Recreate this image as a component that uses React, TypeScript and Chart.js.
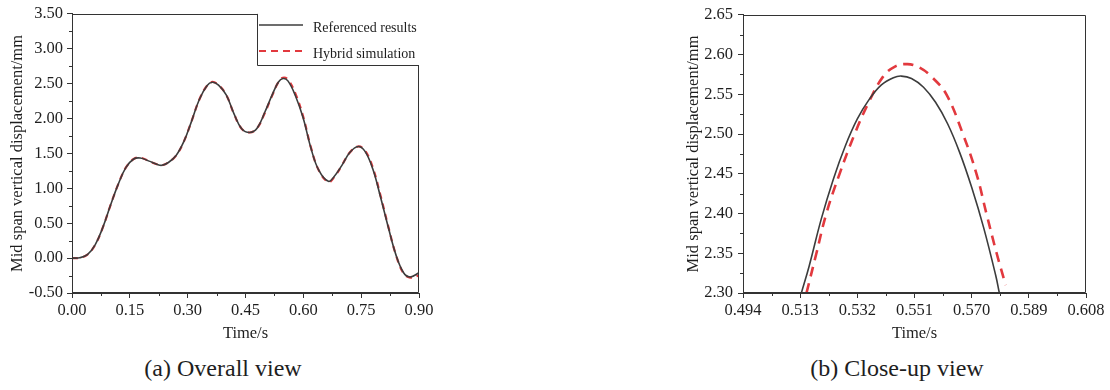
import React, { useEffect, useRef } from 'react';
import { Chart, registerables } from 'chart.js';

Chart.register(...registerables);

// ---------- data ----------
const seriesNames = ['Referenced results', 'Hybrid simulation'];

// (a) overall view
const overallTime = [
  0, 0.02, 0.04, 0.06, 0.08, 0.1, 0.12, 0.14, 0.16, 0.177, 0.2, 0.22, 0.233, 0.25, 0.27, 0.29,
  0.31, 0.33, 0.35, 0.364, 0.38, 0.4, 0.42, 0.44, 0.461, 0.48, 0.5, 0.52, 0.535, 0.547, 0.56,
  0.58, 0.6, 0.62, 0.64, 0.665, 0.68, 0.7, 0.72, 0.742, 0.76, 0.78, 0.8, 0.82, 0.84, 0.86, 0.877, 0.9,
];
const overallReferenced = [
  0, 0.005, 0.05, 0.19, 0.44, 0.76, 1.06, 1.3, 1.42, 1.435, 1.39, 1.345, 1.33, 1.37, 1.47, 1.67,
  1.96, 2.27, 2.47, 2.52, 2.48, 2.34, 2.07, 1.855, 1.8, 1.86, 2.09, 2.35, 2.52, 2.573, 2.54,
  2.32, 2.0, 1.57, 1.26, 1.1, 1.17, 1.33, 1.51, 1.6, 1.53, 1.28, 0.88, 0.45, 0.05, -0.21, -0.27, -0.21,
];
const overallHybrid = [
  0, 0.005, 0.05, 0.19, 0.44, 0.76, 1.06, 1.3, 1.42, 1.44, 1.39, 1.345, 1.33, 1.37, 1.47, 1.67,
  1.96, 2.27, 2.47, 2.525, 2.48, 2.34, 2.07, 1.855, 1.8, 1.86, 2.08, 2.34, 2.52, 2.585, 2.56,
  2.35, 2.02, 1.58, 1.26, 1.09, 1.16, 1.33, 1.51, 1.6, 1.54, 1.3, 0.9, 0.46, 0.05, -0.22, -0.28, -0.25,
];
const overallXTicks = [0, 0.9, 0.15, 0.075]; // min, max, major step, minor step
const overallYTicks = [-0.5, 3.5, 0.5, 0.25];

// (b) close-up view
const closeRefTime = [
  0.5134, 0.516, 0.52, 0.524, 0.528, 0.532, 0.536, 0.54, 0.544, 0.5466, 0.55, 0.554, 0.558,
  0.562, 0.566, 0.57, 0.574, 0.578, 0.5792,
];
const closeRefValues = [
  2.3, 2.334, 2.393, 2.443, 2.485, 2.519, 2.544, 2.562, 2.571, 2.573, 2.57, 2.559, 2.54,
  2.513, 2.477, 2.433, 2.382, 2.322, 2.3,
];
const closeHybTime = [
  0.5151, 0.5184, 0.5217, 0.5261, 0.5311, 0.5358, 0.5405, 0.5445, 0.5486, 0.553, 0.557, 0.5616,
  0.5671, 0.5716, 0.5749, 0.5783, 0.5813,
];
const closeHybValues = [
  2.3, 2.35, 2.4, 2.45, 2.5, 2.54, 2.572, 2.585, 2.588, 2.583, 2.571, 2.55, 2.5, 2.45, 2.4, 2.35, 2.31,
];
const closeXTicks = [0.494, 0.608, 0.019, 0.0095];
const closeYTicks = [2.3, 2.65, 0.05, 0.025];

// ---------- styles ----------
const FONT = '"Liberation Serif", "Times New Roman", serif';
const INK = '#1e1e1e';
const FRAME = '#333333';
const BLACK_LINE = '#3c3c3c';
const RED_LINE = '#e2393e';
const TICK_SIZE = 16.5;
const TITLE_SIZE = 16.5;

const framePlugin = {
  id: 'frameMinor',
  afterDraw(chart: any, _args: any, opts: any) {
    const { ctx, chartArea: a } = chart;
    ctx.save();
    ctx.strokeStyle = FRAME;
    ctx.lineWidth = 1;
    const L = Math.round(a.left) + 0.5;
    const T = Math.round(a.top) + 0.5;
    const R = Math.round(a.right) - 0.5;
    const B = Math.round(a.bottom) - 0.5;
    ctx.beginPath();
    ctx.moveTo(L, T); ctx.lineTo(R, T); ctx.lineTo(R, B); ctx.lineTo(L, B); ctx.closePath();
    ctx.stroke();
    // minor ticks (odd multiples of the minor step)
    const xs = chart.scales.x;
    const ys = chart.scales.y;
    const [xmin, xmax, , xminor] = opts.xt;
    const [ymin, ymax, , yminor] = opts.yt;
    ctx.beginPath();
    const nx = Math.round((xmax - xmin) / xminor);
    for (let i = 1; i < nx; i += 2) {
      const px = Math.round(xs.getPixelForValue(xmin + i * xminor)) + 0.5;
      ctx.moveTo(px, B); ctx.lineTo(px, B + 3.5);
    }
    const ny = Math.round((ymax - ymin) / yminor);
    for (let i = 1; i < ny; i += 2) {
      const py = Math.round(ys.getPixelForValue(ymin + i * yminor)) + 0.5;
      ctx.moveTo(L, py); ctx.lineTo(L - 3.5, py);
    }
    ctx.stroke();
    // legend
    const lg = opts.legend;
    if (lg) {
      if (lg.boxed) {
        ctx.fillStyle = '#ffffff';
        ctx.fillRect(lg.boxLeft, a.top - 1, a.right - lg.boxLeft + 2, lg.boxBottom - a.top + 1);
        ctx.beginPath();
        ctx.moveTo(lg.boxLeft + 0.5, a.top);
        ctx.lineTo(lg.boxLeft + 0.5, lg.boxBottom + 0.5);
        ctx.lineTo(a.right, lg.boxBottom + 0.5);
        ctx.stroke();
      }
      chart.data.datasets.forEach((ds: any, i: number) => {
        const y = lg.rows[i];
        ctx.beginPath();
        ctx.strokeStyle = ds.borderColor;
        ctx.lineWidth = ds.borderWidth;
        ctx.setLineDash(lg.dashes[i]);
        ctx.moveTo(lg.lineX0, y); ctx.lineTo(lg.lineX1, y);
        ctx.stroke();
        ctx.setLineDash([]);
        ctx.fillStyle = INK;
        ctx.font = `${lg.fontSize}px ${FONT}`;
        ctx.textBaseline = 'alphabetic';
        ctx.textAlign = 'left';
        ctx.fillText(ds.label, lg.textX, y + lg.baselineOffset);
      });
    }
    ctx.restore();
  },
};

function makeScale(t: number[], decimals: number, title: string, isX: boolean, size: number, labelPad: number) {
  return {
    type: 'linear',
    min: t[0],
    max: t[1],
    ticks: {
      stepSize: t[2],
      autoSkip: false,
      maxRotation: 0,
      padding: labelPad,
      color: INK,
      font: { family: FONT, size: TICK_SIZE },
      callback: (v: any) => Number(v).toFixed(decimals),
    },
    grid: { display: true, drawOnChartArea: false, drawTicks: true, tickLength: 5, color: FRAME, lineWidth: 1 },
    border: { display: true, color: FRAME, width: 1 },
    title: {
      display: true,
      text: title,
      color: INK,
      font: { family: FONT, size: TITLE_SIZE },
      padding: isX ? { top: 2, bottom: 6 } : { top: 8, bottom: 2 },
    },
    afterFit: (s: any) => {
      if (isX) s.height = size; else s.width = size;
    },
  };
}

function toPoints(xs: number[], ys: number[]) {
  return xs.map((x, i) => ({ x, y: ys[i] }));
}

function ChartBox(props: { left: number; width: number; kind: 'overall' | 'close' }) {
  const ref = useRef<HTMLCanvasElement>(null);
  useEffect(() => {
    const chart = new Chart(ref.current as HTMLCanvasElement, buildConfig(props.kind) as any);
    return () => chart.destroy();
  }, []);
  return (
    <canvas
      ref={ref}
      width={props.width}
      height={350}
      style={{ position: 'absolute', left: props.left, top: 0, width: props.width, height: 350, display: 'block' }}
    />
  );
}

function buildConfig(kind: 'overall' | 'close') {
  const overall = kind === 'overall';
  const refData = overall ? toPoints(overallTime, overallReferenced) : toPoints(closeRefTime, closeRefValues);
  const hybData = overall ? toPoints(overallTime, overallHybrid) : toPoints(closeHybTime, closeHybValues);
  const xt = overall ? overallXTicks : closeXTicks;
  const yt = overall ? overallYTicks : closeYTicks;
  return {
    type: 'line',
    data: {
      datasets: [
        {
          label: seriesNames[0],
          data: refData,
          borderColor: BLACK_LINE,
          borderWidth: 1.6,
          pointRadius: 0,
          tension: 0.4,
          fill: false,
        },
        {
          label: seriesNames[1],
          data: hybData,
          borderColor: RED_LINE,
          borderWidth: overall ? 2.2 : 2.6,
          borderDash: overall ? [6, 5] : [10, 7],
          pointRadius: 0,
          tension: 0.4,
          fill: false,
        },
      ],
    },
    options: {
      responsive: false,
      animation: false,
      events: [],
      layout: { padding: { top: 11, right: overall ? 21 : 24, left: 0, bottom: 0 } },
      plugins: {
        legend: { display: false },
        tooltip: { enabled: false },
        frameMinor: {
          xt,
          yt,
          legend: overall
            ? { boxed: true, boxLeft: 257, boxBottom: 65, lineX0: 259, lineX1: 303, textX: 313, rows: [25, 51], baselineOffset: 7, fontSize: 14, dashes: [[], [7, 5]] }
            : { boxed: false, lineX0: 932, lineX1: 969, textX: 978, rows: [24, 47], baselineOffset: 6, fontSize: 14, dashes: [[], [10, 6]] },
        },
      },
      scales: {
        x: makeScale(xt, overall ? 2 : 3, 'Time/s', true, 57, 3),
        y: makeScale(yt, 2, 'Mid span vertical displacement/mm', false, overall ? 72 : 67, overall ? 4 : 5),
      },
    },
    plugins: [framePlugin],
  };
}

export default function App() {
  const captionStyle: React.CSSProperties = {
    position: 'absolute',
    top: 353,
    fontFamily: FONT,
    fontSize: 24,
    color: INK,
    whiteSpace: 'nowrap',
    transform: 'translateX(-50%)',
    lineHeight: '30px',
  };
  return (
    <div style={{ position: 'absolute', left: 0, top: 0, width: 1110, height: 390, background: '#ffffff', overflow: 'hidden' }}>
      <ChartBox left={0} width={440} kind="overall" />
      <ChartBox left={676} width={434} kind="close" />
      <div style={{ ...captionStyle, left: 223 }}>(a) Overall view</div>
      <div style={{ ...captionStyle, left: 897 }}>(b) Close-up view</div>
    </div>
  );
}
